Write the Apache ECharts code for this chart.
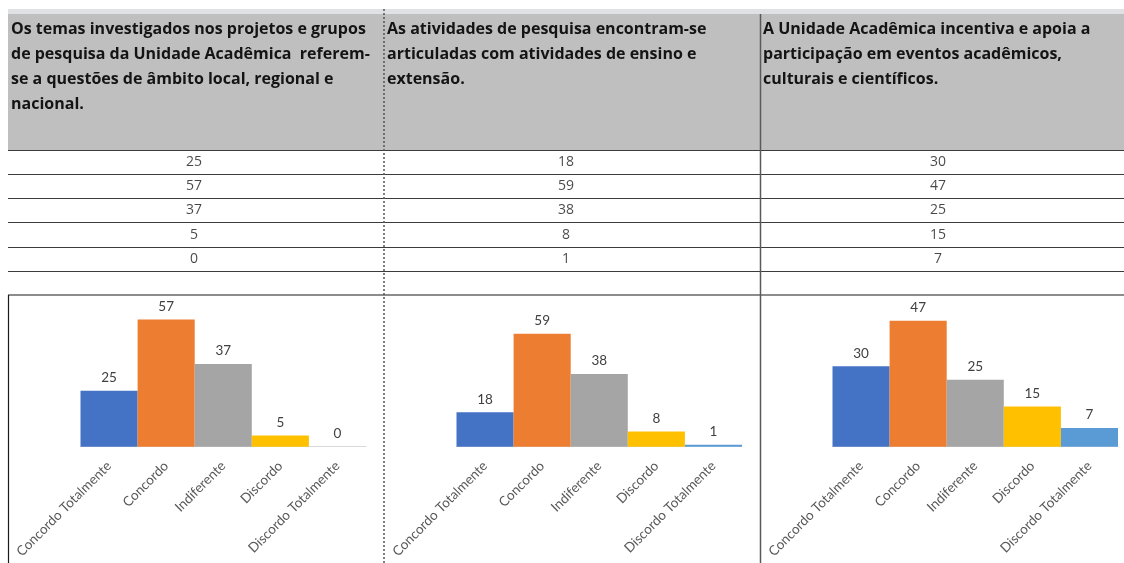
<!DOCTYPE html>
<html>
<head>
<meta charset="utf-8">
<script src="https://cdn.jsdelivr.net/npm/echarts@6/dist/echarts.min.js"></script>
<style>
  html, body { margin: 0; padding: 0; background: #fff; }
  #main { width: 1124px; height: 563px; }
</style>
</head>
<body>
<div id="main"></div>
<script>
// respostas (linhas da tabela / categorias dos gráficos)
const categories = ['Concordo Totalmente', 'Concordo', 'Indiferente', 'Discordo', 'Discordo Totalmente'];

// enunciados das três perguntas (cabeçalho da planilha)
const questions = [
  'Os temas investigados nos projetos e grupos\nde pesquisa da Unidade Acadêmica  referem-\nse a questões de âmbito local, regional e\nnacional.',
  'As atividades de pesquisa encontram-se\narticuladas com atividades de ensino e\nextensão.',
  'A Unidade Acadêmica incentiva e apoia a\nparticipação em eventos acadêmicos,\nculturais e científicos.'
];

// contagens por pergunta
const temasValues = [25, 57, 37, 5, 0];
const atividadesValues = [18, 59, 38, 8, 1];
const eventosValues = [30, 47, 25, 15, 7];

// máximo do eixo (escala automática do Excel)
const axisMax = [60, 70, 50];

const allValues = [temasValues, atividadesValues, eventosValues];
const barColors = ['#4472C4', '#ED7D31', '#A5A5A5', '#FFC000', '#5B9BD5'];

const FONT = 'Lato';
const HEAD_FONT = '"Open Sans"';
const COL_W = 376;
const LEFT = 8;

/**
 * célula da tabela -> [coluna, linha, valor]
 */
const tableData = [];
allValues.forEach((vals, q) => {
  vals.forEach((v, r) => tableData.push([q, r, v]));
});

const grids = [{ left: LEFT, top: 150, width: COL_W * 3, height: 121 }];
const xAxes = [{
  type: 'category', gridIndex: 0, data: questions.map((_, i) => i),
  axisLine: { show: false }, axisTick: { show: false }, axisLabel: { show: false }, splitLine: { show: false }
}];
const yAxes = [{
  type: 'category', gridIndex: 0, inverse: true, data: categories,
  axisLine: { show: false }, axisTick: { show: false }, axisLabel: { show: false },
  splitLine: { show: true, lineStyle: { color: '#3c3c3c', width: 1 } }
}];
const series = [{
  type: 'scatter', xAxisIndex: 0, yAxisIndex: 0, data: tableData,
  symbolSize: 1, itemStyle: { color: 'rgba(0,0,0,0)' },
  label: {
    show: true, position: 'inside', formatter: (p) => String(p.value[2]),
    color: '#1a1a1a', fontFamily: 'Open Sans', fontSize: 14
  },
  silent: true
}];

allValues.forEach((vals, i) => {
  const g = i + 1;
  grids.push({ left: 80.5 + COL_W * i, top: 312.7, width: 285.5, height: 134 });
  xAxes.push({
    type: 'category', gridIndex: g, data: categories,
    axisLine: { show: true, lineStyle: { color: '#D9D9D9', width: 1 } },
    axisTick: { show: false },
    axisLabel: {
      interval: 0, rotate: 45, margin: 17,
      color: '#595959', fontFamily: FONT, fontSize: 13.5
    }
  });
  yAxes.push({ type: 'value', gridIndex: g, min: 0, max: axisMax[i], show: false });
  series.push({
    type: 'bar', xAxisIndex: g, yAxisIndex: g,
    barCategoryGap: '0%',
    data: vals.map((v, k) => ({ value: v, itemStyle: { color: barColors[k] } })),
    label: {
      show: true, position: 'top', distance: 6,
      color: '#404040', fontFamily: FONT, fontSize: 13.5
    }
  });
});

// moldura da planilha (não são dados)
const graphic = [
  { type: 'rect', z: -5, shape: { x: LEFT, y: 9, width: 1124, height: 6 }, style: { fill: '#DFE1E4' } },
  { type: 'rect', z: -4, shape: { x: LEFT, y: 14, width: 1124, height: 136 }, style: { fill: '#BFBFBF' } },
  { type: 'line', z: 10, shape: { x1: LEFT, y1: 295, x2: 1124, y2: 295 }, style: { stroke: '#1a1a1a', lineWidth: 1.2 } },
  { type: 'line', z: 10, shape: { x1: LEFT + 0.5, y1: 295, x2: LEFT + 0.5, y2: 563 }, style: { stroke: '#1a1a1a', lineWidth: 1.2 } },
  { type: 'line', z: 10, shape: { x1: 384, y1: 9, x2: 384, y2: 563 }, style: { stroke: '#555', lineWidth: 1.5, lineDash: [2, 2] } },
  { type: 'line', z: 10, shape: { x1: 760.5, y1: 14, x2: 760.5, y2: 563 }, style: { stroke: '#5a5a5a', lineWidth: 1.5 } }
];
questions.forEach((q, i) => {
  graphic.push({
    type: 'text', z: 5, left: LEFT + 3 + COL_W * i, top: 17,
    style: { text: q, fill: '#141414', font: 'bold 16px ' + HEAD_FONT, lineHeight: 25 }
  });
});

const chart = echarts.init(document.getElementById('main'));
chart.setOption({
  animation: false,
  textStyle: { fontFamily: FONT },
  graphic: graphic,
  grid: grids,
  xAxis: xAxes,
  yAxis: yAxes,
  series: series
});
</script>
</body>
</html>
